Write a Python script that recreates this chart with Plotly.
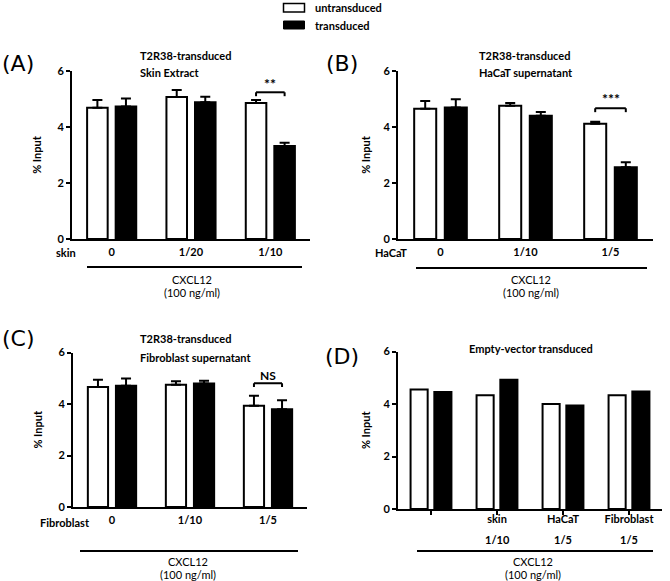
import plotly.graph_objects as go

W, H = 670, 581

# ---------------- data ----------------
a_cats = ["0", "1/20", "1/10"]
a_untrans = [4.69, 5.07, 4.86]
a_untrans_err = [0.27, 0.25, 0.10]
a_trans = [4.73, 4.88, 3.32]
a_trans_err = [0.29, 0.20, 0.12]

b_cats = ["0", "1/10", "1/5"]
b_untrans = [4.65, 4.76, 4.12]
b_untrans_err = [0.28, 0.10, 0.07]
b_trans = [4.70, 4.40, 2.56]
b_trans_err = [0.29, 0.14, 0.18]

c_cats = ["0", "1/10", "1/5"]
c_untrans = [4.66, 4.75, 3.93]
c_untrans_err = [0.28, 0.13, 0.39]
c_trans = [4.71, 4.80, 3.80]
c_trans_err = [0.28, 0.10, 0.35]

d_cats = ["", "skin", "HaCaT", "Fibroblast"]
d_doses = ["", "1/10", "1/5", "1/5"]
d_untrans = [4.55, 4.33, 4.00, 4.33]
d_trans = [4.46, 4.92, 3.94, 4.48]

y_ticks = [0, 2, 4, 6]

FONT = "Lato"
BLACK = "#000000"


def fx(px):
    return px / W


def fy(py):
    return 1 - py / H


fig = go.Figure()


def add_bars(ax, cats, untr, trans, untr_err=None, trans_err=None):
    xs = list(range(len(cats)))
    xa = "x" if ax == 1 else f"x{ax}"
    ya = "y" if ax == 1 else f"y{ax}"
    eu = None
    et = None
    if untr_err is not None:
        eu = dict(type="data", symmetric=False, array=untr_err,
                  arrayminus=[0] * len(untr_err), color=BLACK,
                  thickness=2, width=5)
        et = dict(type="data", symmetric=False, array=trans_err,
                  arrayminus=[0] * len(trans_err), color=BLACK,
                  thickness=2, width=5)
    fig.add_trace(go.Bar(x=xs, y=untr, name="untransduced", xaxis=xa, yaxis=ya,
                         marker=dict(color="white", line=dict(color=BLACK, width=2)),
                         error_y=eu, showlegend=False))
    fig.add_trace(go.Bar(x=xs, y=trans, name="transduced", xaxis=xa, yaxis=ya,
                         marker=dict(color=BLACK, line=dict(color=BLACK, width=2)),
                         error_y=et, showlegend=False))


add_bars(1, a_cats, a_untrans, a_trans, a_untrans_err, a_trans_err)
add_bars(2, b_cats, b_untrans, b_trans, b_untrans_err, b_trans_err)
add_bars(3, c_cats, c_untrans, c_trans, c_untrans_err, c_trans_err)
add_bars(4, d_cats, d_untrans, d_trans)

tickfont = dict(family=FONT, size=11, color=BLACK, weight="bold")


def yaxis_cfg(dom, standoff=14):
    return dict(domain=dom, range=[0, 6], tickvals=y_ticks, ticks="outside",
                ticklen=4, tickwidth=2, tickcolor=BLACK, showline=True,
                linewidth=2, linecolor=BLACK, showgrid=False, zeroline=False,
                tickfont=tickfont, automargin=False,
                title=dict(text="% Input", font=tickfont, standoff=standoff))


def xaxis_cfg(dom, cats, anchor, ticks="", standoff=2):
    return dict(domain=dom, range=[-0.5, len(cats) - 0.5],
                tickvals=list(range(len(cats))), ticktext=cats,
                ticks=ticks, ticklen=4, tickwidth=1.5, tickcolor=BLACK,
                showline=True, linewidth=2, linecolor=BLACK, showgrid=False,
                zeroline=False, tickfont=tickfont, anchor=anchor,
                ticklabelstandoff=standoff, automargin=False)


fig.update_layout(
    template="none",
    width=W, height=H,
    margin=dict(l=0, r=0, t=0, b=0, pad=0),
    paper_bgcolor="white", plot_bgcolor="white",
    barmode="group", bargap=0.28, bargroupgap=0.28,
    showlegend=False,
    font=dict(family=FONT, color=BLACK),
    xaxis=xaxis_cfg([fx(72), fx(310)], a_cats, "y"),
    yaxis=yaxis_cfg([fy(239), fy(71)]) | dict(anchor="x"),
    xaxis2=xaxis_cfg([fx(398), fx(653)], b_cats, "y2"),
    yaxis2=yaxis_cfg([fy(239), fy(71)], 11) | dict(anchor="x2"),
    xaxis3=xaxis_cfg([fx(73), fx(307)], c_cats, "y3"),
    yaxis3=yaxis_cfg([fy(507), fy(352.5)]) | dict(anchor="x3"),
    xaxis4=xaxis_cfg([fx(398), fx(662)], d_cats, "y4", ticks="outside", standoff=-5),
    yaxis4=yaxis_cfg([fy(509), fy(351.5)], 11) | dict(anchor="x4"),
)

shapes = []
annots = []


def txt(x, y, s, size=11, bold=True, xanchor="center", family=FONT, xref="paper", yref="paper"):
    annots.append(dict(x=x, y=y, xref=xref, yref=yref, text=s, showarrow=False,
                       xanchor=xanchor, yanchor="middle",
                       font=dict(family=family, size=size, color=BLACK,
                                 weight="bold" if bold else "normal")))


def pline(x0, x1, y, w=2):
    shapes.append(dict(type="line", xref="paper", yref="paper",
                       x0=fx(x0), x1=fx(x1), y0=fy(y), y1=fy(y),
                       line=dict(color=BLACK, width=w)))


def bracket(ax, i, ytop, ydrop, label, ylab, size):
    xa = "x" if ax == 1 else f"x{ax}"
    ya = "y" if ax == 1 else f"y{ax}"
    x0, x1 = i - 0.18, i + 0.18
    for (a, b, c, d) in [(x0, ytop, x1, ytop), (x0, ytop, x0, ydrop), (x1, ytop, x1, ydrop)]:
        shapes.append(dict(type="line", xref=xa, yref=ya, x0=a, y0=b, x1=c, y1=d,
                           line=dict(color=BLACK, width=2)))
    txt(i, ylab, label, size=size, xref=xa, yref=ya)


# significance brackets
bracket(1, 2, 5.24, 5.10, "**", 5.57, 14)
bracket(2, 2, 4.67, 4.53, "***", 5.02, 14)
bracket(3, 2, 4.81, 4.66, "NS", 5.12, 12)

# panel letters
txt(fx(18), fy(64), "(A)", size=22, bold=False, family="DejaVu Sans")
txt(fx(342), fy(64), "(B)", size=22, bold=False, family="DejaVu Sans")
txt(fx(18), fy(338), "(C)", size=22, bold=False, family="DejaVu Sans")
txt(fx(342), fy(356), "(D)", size=22, bold=False, family="DejaVu Sans")

# panel titles
txt(fx(138), fy(55), "T2R38-transduced", xanchor="left")
txt(fx(138), fy(73), "Skin Extract", xanchor="left")
txt(fx(477), fy(55), "T2R38-transduced", xanchor="left")
txt(fx(477), fy(73), "HaCaT supernatant", xanchor="left")
txt(fx(138), fy(338), "T2R38-transduced", xanchor="left")
txt(fx(138), fy(357), "Fibroblast supernatant", xanchor="left")
txt(fx(531), fy(348), "Empty-vector transduced")

# row labels
txt(fx(65.5), fy(253), "skin")
txt(fx(391), fy(253), "HaCaT")
txt(fx(64.5), fy(522), "Fibroblast")

# D second label row
for i, d in enumerate(d_doses):
    if d:
        txt(i, fy(539), d, xref="x4")

# CXCL12 lines and labels
pline(87, 302, 267)
pline(416, 647, 268)
pline(80, 298, 551)
pline(417, 653, 551)
txt(fx(192), fy(279), "CXCL12", bold=False)
txt(fx(192), fy(292), "(100 ng/ml)", bold=False)
txt(fx(531), fy(279), "CXCL12", bold=False)
txt(fx(531), fy(292), "(100 ng/ml)", bold=False)
txt(fx(188), fy(561), "CXCL12", bold=False)
txt(fx(188), fy(574), "(100 ng/ml)", bold=False)
txt(fx(533), fy(561), "CXCL12", bold=False)
txt(fx(533), fy(574), "(100 ng/ml)", bold=False)

# legend
shapes.append(dict(type="rect", xref="paper", yref="paper",
                   x0=fx(283.5), x1=fx(304.5), y0=fy(3.5), y1=fy(12),
                   fillcolor="white", line=dict(color=BLACK, width=1.5)))
shapes.append(dict(type="rect", xref="paper", yref="paper",
                   x0=fx(283.5), x1=fx(304.5), y0=fy(21), y1=fy(29),
                   fillcolor=BLACK, line=dict(color=BLACK, width=1)))
txt(fx(313), fy(7), "untransduced", xanchor="left")
txt(fx(313), fy(25), "transduced", xanchor="left")

fig.update_layout(shapes=shapes, annotations=annots)
fig.write_html("out.html", config={"displayModeBar": False},
               post_script="document.body.style.margin='0';document.body.style.overflow='hidden';")
